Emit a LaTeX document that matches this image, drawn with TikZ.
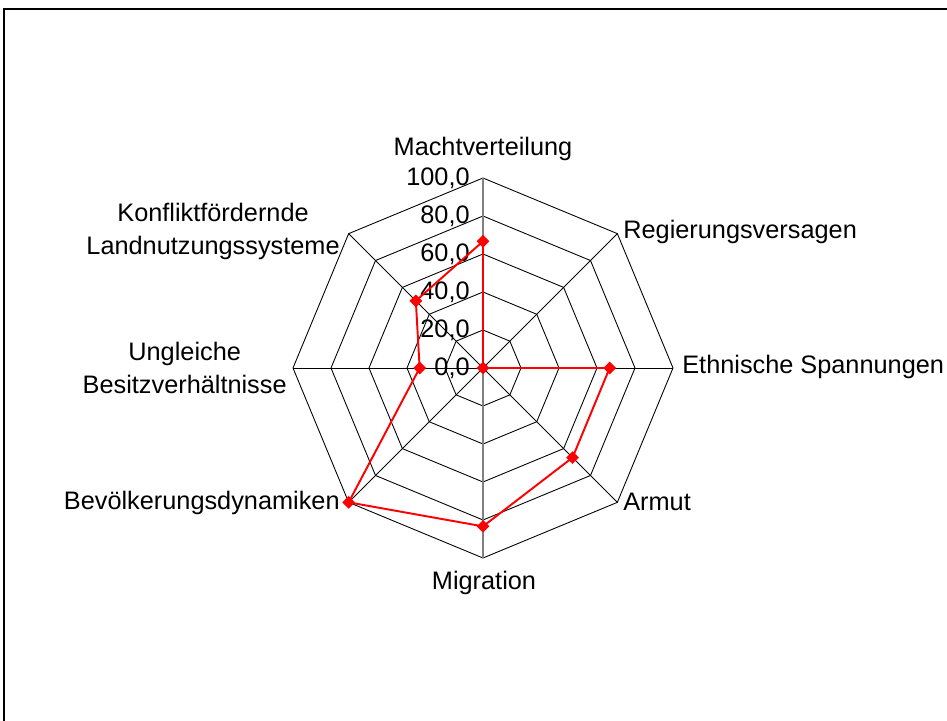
\documentclass[tikz,border=0pt]{standalone}
\usepackage{fontspec}
\setmainfont{Liberation Sans}
\usetikzlibrary{shapes.geometric}

\begin{document}
\begin{tikzpicture}[font=\fontsize{14.4}{18.8}\selectfont]

  \useasboundingbox (-9.66,-7.04) rectangle (9.28,7.36);
  \draw[line width=0.6pt] (9.4,7.18) -- (-9.58,7.18) -- (-9.58,-7.2);

  % grid rings and spokes
  \begin{scope}[line width=0.5pt]
    \foreach \k in {1,...,5}
      \draw (0:0.76*\k) -- (45:0.76*\k) -- (90:0.76*\k) -- (135:0.76*\k)
        -- (180:0.76*\k) -- (225:0.76*\k) -- (270:0.76*\k) -- (315:0.76*\k) -- cycle;
    \foreach \a in {45,0,-45,-135,180,135}
      \draw (0,0) -- (\a:3.8);
    \draw[gray, line width=0.6pt] (0,-3.8) -- (0,3.8);
  \end{scope}

  % value axis
  \begin{scope}[every node/.style={anchor=east, inner sep=0pt}]
    \node (t0)   at (-0.26,0)    {0,0};
    \node (t20)  at (-0.26,0.76) {20,0};
    \node (t40)  at (-0.26,1.52) {40,0};
    \node (t60)  at (-0.26,2.28) {60,0};
    \node (t80)  at (-0.26,3.04) {80,0};
    \node (t100) at (-0.26,3.80) {100,0};
  \end{scope}

  % axis names
  \begin{scope}[every node/.style={inner sep=0pt, align=center}]
    \node (mv) at (0,4.38) {Machtverteilung};
    \node[anchor=west] (rv) at (2.80,2.72) {Regierungsversagen};
    \node[anchor=west] (es) at (3.98,0.02) {Ethnische Spannungen};
    \node[anchor=west] (ar) at (2.80,-2.68) {Armut};
    \node (mi) at (0.02,-4.30) {Migration};
    \node[anchor=east] (bd) at (-2.86,-2.70) {Bevölkerungsdynamiken};
    \node[anchor=east] (ub) at (-3.92,0) {Ungleiche\\Besitzverhältnisse};
    \node[anchor=east] (kl) at (-2.86,2.74) {Konfliktfördernde\\Landnutzungssysteme};
  \end{scope}

  % data
  \begin{scope}[every node/.style={diamond, fill=red, inner sep=0pt, minimum size=0.26cm}]
    \node (p1) at (90:2.533)   {};
    \node (p2) at (0,0)        {};
    \node (p3) at (0:2.533)    {};
    \node (p4) at (-45:2.533)  {};
    \node (p5) at (-90:3.167)  {};
    \node (p6) at (-135:3.8)   {};
    \node (p7) at (180:1.267)  {};
    \node (p8) at (135:1.9)    {};
  \end{scope}
  \draw[red, line width=1.1pt, line join=round] (p1.center) -- (p2.center) -- (p3.center)
    -- (p4.center) -- (p5.center) -- (p6.center) -- (p7.center) -- (p8.center) -- cycle;

\end{tikzpicture}
\end{document}
